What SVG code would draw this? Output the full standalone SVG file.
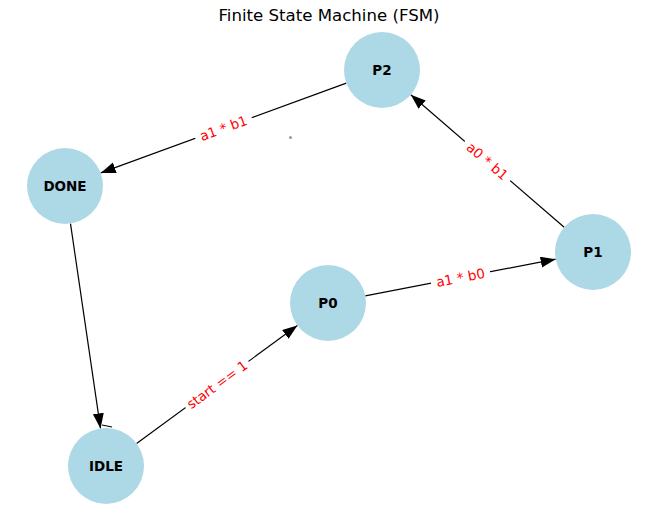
<svg xmlns="http://www.w3.org/2000/svg" width="656" height="517" viewBox="0 0 656 517">
<style>
.node circle{fill:#add8e6;}
.node text{font-family:"DejaVu Sans",sans-serif;font-size:13.5px;font-weight:bold;fill:#000;text-anchor:middle;dominant-baseline:central;}
.edge line,.edge path{stroke:#000;stroke-width:1.2;fill:none;}
.lbl rect{fill:#fff;}
.lbl text{font-family:"DejaVu Sans",sans-serif;font-size:13.5px;fill:#ff0000;text-anchor:middle;dominant-baseline:central;}
.title{font-family:"DejaVu Sans",sans-serif;font-size:16.6px;fill:#000;text-anchor:middle;}
</style>
<defs>
<marker id="arr" markerUnits="userSpaceOnUse" markerWidth="16" markerHeight="12" refX="15" refY="5.5" orient="auto">
<path d="M0,0 L15,5.5 L0,11 z" fill="#000"/>
</marker>
</defs>
<rect width="656" height="517" fill="#fff"/>
<text class="title" x="329" y="21">Finite State Machine (FSM)</text>
<g id="edges" class="edge">
<line x1="346.3" y1="83.1" x2="100.7" y2="172.9" marker-end="url(#arr)"/>
<line x1="564.2" y1="227.2" x2="410.8" y2="94.8" marker-end="url(#arr)"/>
<line x1="365.3" y1="295.8" x2="555.7" y2="259.2" marker-end="url(#arr)"/>
<line x1="136.6" y1="443.5" x2="297.4" y2="325.5" marker-end="url(#arr)"/>
<line x1="70.5" y1="223.6" x2="100.5" y2="428.4" marker-end="url(#arr)"/>
<path d="M102,425 L112,427"/>
<g class="lbl" transform="translate(223.5,128) rotate(-20.1)"><rect x="-30" y="-10" width="60" height="20"/><text x="0" y="0">a1 * b1</text></g>
<g class="lbl" transform="translate(487.5,161) rotate(40.8)"><rect x="-30" y="-10" width="60" height="20"/><text x="0" y="0">a0 * b1</text></g>
<g class="lbl" transform="translate(460.5,277.5) rotate(-10.9)"><rect x="-30" y="-10" width="60" height="20"/><text x="0" y="0">a1 * b0</text></g>
<g class="lbl" transform="translate(217,384.5) rotate(-36.3)"><rect x="-39" y="-10" width="78" height="20"/><text x="0" y="0">start == 1</text></g>
</g>
<circle cx="290.5" cy="137.5" r="1.5" fill="#999"/>
<g id="node-P2" class="node"><circle cx="382" cy="70" r="38"/><text x="382" y="70">P2</text></g>
<g id="node-DONE" class="node"><circle cx="65" cy="186" r="38"/><text x="65" y="186">DONE</text></g>
<g id="node-P1" class="node"><circle cx="593" cy="252" r="38"/><text x="593" y="252">P1</text></g>
<g id="node-P0" class="node"><circle cx="328" cy="303" r="38"/><text x="328" y="303">P0</text></g>
<g id="node-IDLE" class="node"><circle cx="106" cy="466" r="38"/><text x="106" y="466">IDLE</text></g>
</svg>
